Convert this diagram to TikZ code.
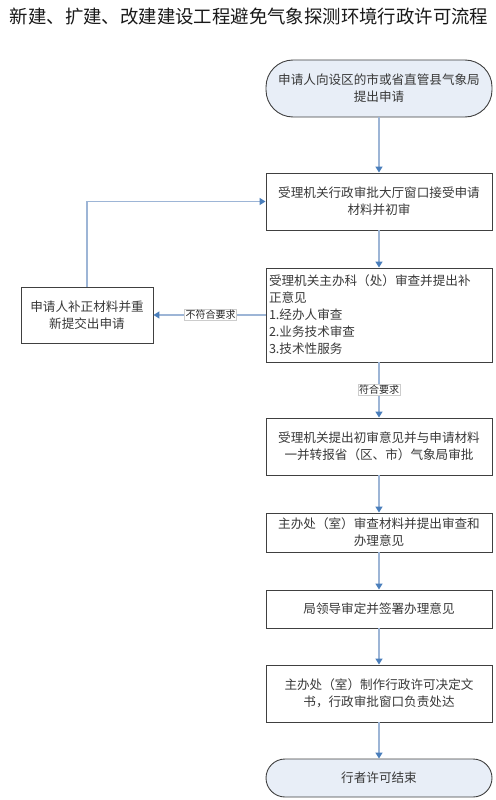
\documentclass[tikz,border=0pt]{standalone}
\usepackage{fontspec}
\setmainfont{Noto Sans CJK SC}
\usetikzlibrary{arrows.meta}
\definecolor{linec}{HTML}{9DB5D6}
\definecolor{tipc}{HTML}{4A7EBB}
\definecolor{termfill}{HTML}{E8EEF7}
\definecolor{txt}{HTML}{383838}
\tikzset{
  box/.style={draw=black!75, line width=0.9pt, minimum width=226pt, inner sep=3pt, text=txt,
    font=\fontsize{12.6}{17}\selectfont, align=center},
  term/.style={box, fill=termfill, rounded corners=19pt},
  flow/.style={draw=linec, line width=1.4pt, -{Triangle[length=6pt,width=7pt,color=tipc,fill=tipc]}},
  lab/.style={fill=white, draw=black!20, line width=0.4pt, inner sep=1pt, text=black!85,
    font=\fontsize{10}{12}\selectfont}
}
\begin{document}
\begin{tikzpicture}[x=1pt,y=-1pt]
\useasboundingbox (0,0) rectangle (495,800);
\node[font=\fontsize{18.4}{22}\selectfont, text=black!90] (title) at (249,16) {新建、扩建、改建建设工程避免气象探测环境行政许可流程};
\node[term, rounded corners=27pt, minimum height=57pt] (s) at (379,88.5) {申请人向设区的市或省直管县气象局\\提出申请};
\node[box, minimum height=57pt] (b2) at (379,201.5) {受理机关行政审批大厅窗口接受申请\\材料并初审};
\node[box, minimum height=94pt, align=left, text width=220pt] (b3) at (379,315) {受理机关主办科（处）审查并提出补\\正意见\\1.经办人审查\\2.业务技术审查\\3.技术性服务};
\node[box, minimum height=57pt] (b4) at (379,446.5) {受理机关提出初审意见并与申请材料\\一并转报省（区、市）气象局审批};
\node[box, minimum height=39pt, inner sep=1pt] (b5) at (379,532.5) {主办处（室）审查材料并提出审查和\\办理意见};
\node[box, minimum height=38pt] (b6) at (379,609) {局领导审定并签署办理意见};
\node[box, minimum height=57pt] (b7) at (379,693.5) {主办处（室）制作行政许可决定文\\书，行政审批窗口负责处达};
\node[term, minimum height=38pt] (e) at (379,778) {行者许可结束};
\node[box, minimum width=132pt, minimum height=56pt] (l) at (87,315) {申请人补正材料并重\\新提交出申请};
\draw[flow] (s) -- (b2);
\draw[flow] (b2) -- (b3);
\draw[flow] (b3) -- node[lab] {符合要求} (b4);
\draw[flow] (b4) -- (b5);
\draw[flow] (b5) -- (b6);
\draw[flow] (b6) -- (b7);
\draw[flow] (b7) -- (e);
\draw[flow] (b3) -- node[lab, pos=0.49] {不符合要求} (l);
\draw[flow] (l) |- (b2);
\end{tikzpicture}
\end{document}
